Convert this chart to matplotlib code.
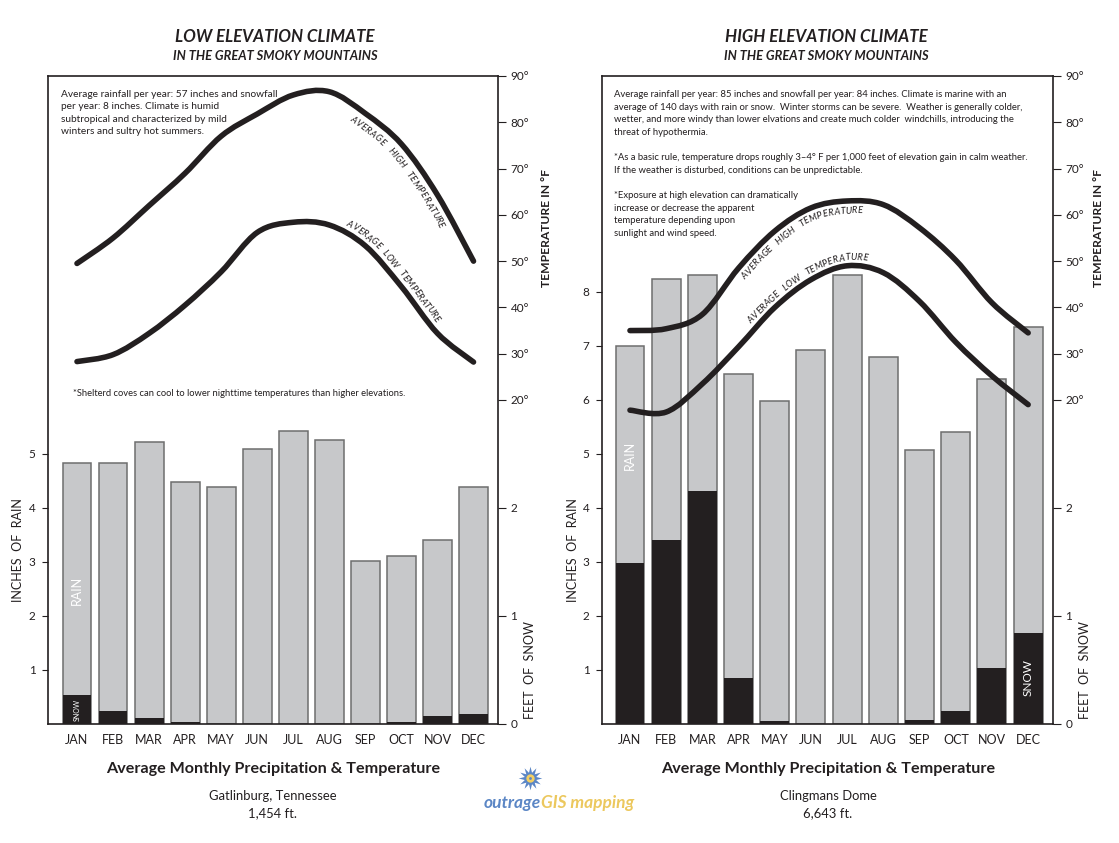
import numpy as np
import matplotlib
matplotlib.use('Agg')
import matplotlib.pyplot as plt
from matplotlib.path import Path
from matplotlib.patches import PathPatch
from matplotlib.font_manager import FontProperties
from matplotlib.textpath import TextPath

plt.rcParams['font.family'] = ['Lato', 'DejaVu Sans']

# ---------------- data ----------------
months = ['JAN', 'FEB', 'MAR', 'APR', 'MAY', 'JUN', 'JUL', 'AUG', 'SEP', 'OCT', 'NOV', 'DEC']

# Gatlinburg (low elevation)
low_rain_in = [4.83, 4.83, 5.23, 4.48, 4.39, 5.10, 5.43, 5.26, 3.01, 3.12, 3.41, 4.39]
low_snow_ft = [0.27, 0.12, 0.06, 0.02, 0.0, 0.0, 0.0, 0.0, 0.0, 0.02, 0.07, 0.09]
low_temp_high = [49.5, 55.0, 62.0, 69.0, 77.0, 81.8, 85.9, 86.6, 81.9, 75.3, 64.3, 50.0]
low_temp_low = [28.3, 29.8, 34.4, 40.5, 47.7, 56.2, 58.4, 57.8, 53.3, 44.5, 34.4, 28.2]

# Clingmans Dome (high elevation)
high_rain_in = [7.00, 8.25, 8.32, 6.49, 5.98, 6.93, 8.32, 6.79, 5.07, 5.40, 6.39, 7.35]
high_snow_ft = [1.49, 1.70, 2.16, 0.43, 0.025, 0.0, 0.0, 0.0, 0.04, 0.12, 0.52, 0.84]
high_temp_high = [35.0, 35.4, 38.5, 48.5, 56.5, 61.5, 63.0, 62.2, 57.2, 50.2, 41.0, 34.5]
high_temp_low = [17.8, 17.4, 23.5, 31.5, 40.0, 46.0, 49.0, 47.5, 41.3, 32.5, 25.2, 19.0]

low_rain_ticks = [1, 2, 3, 4, 5]
high_rain_ticks = [1, 2, 3, 4, 5, 6, 7, 8]
snow_ticks = [0, 1, 2]
temp_ticks = [20, 30, 40, 50, 60, 70, 80, 90]

# ---------------- figure ----------------
W, H = 1119, 843
fig = plt.figure(figsize=(W / 100, H / 100), dpi=100)
ov = fig.add_axes([0, 0, 1, 1], zorder=10)
ov.set_xlim(0, W)
ov.set_ylim(H, 0)
ov.axis('off')
ov.patch.set_visible(False)

INK = '#231f20'
GRAY = '#c7c8ca'
EDGE = '#6e6e6e'


def smooth_ctrl(xs, ys):
    P = np.column_stack([xs, ys]).astype(float)
    n = len(P)
    segs = []
    for i in range(n - 1):
        p0 = P[max(i - 1, 0)]
        p1 = P[i]
        p2 = P[i + 1]
        p3 = P[min(i + 2, n - 1)]
        segs.append((p1, p1 + (p2 - p0) / 6.0, p2 - (p3 - p1) / 6.0, p2))
    return segs


def smooth_path(segs):
    verts = [segs[0][0]]
    codes = [Path.MOVETO]
    for (a, b, c, d) in segs:
        verts += [b, c, d]
        codes += [Path.CURVE4] * 3
    return Path(np.array(verts), codes)


def sample(segs, n=60):
    out = []
    t = np.linspace(0, 1, n, endpoint=False)[:, None]
    for (a, b, c, d) in segs:
        out.append((1 - t) ** 3 * a + 3 * (1 - t) ** 2 * t * b + 3 * (1 - t) * t ** 2 * c + t ** 3 * d)
    out.append(segs[-1][3][None, :])
    return np.vstack(out)


def curve_text(axt, segs, text, xs0, xs1, fs, off):
    """Place text letter by letter along the curve; off>0 = below the curve (px)."""
    fp = FontProperties(family=['Lato', 'DejaVu Sans'], size=fs, style='italic')
    pts = sample(segs)
    d = axt.transData.transform(pts)
    tg = np.gradient(d, axis=0)
    tn = tg / np.linalg.norm(tg, axis=1)[:, None]
    nrm = np.column_stack([tn[:, 1], -tn[:, 0]])
    oc = d + off * nrm
    s = np.concatenate([[0], np.cumsum(np.hypot(oc[1:, 0] - oc[:-1, 0], oc[1:, 1] - oc[:-1, 1]))])
    X0 = axt.transData.transform((xs0, 0))[0]
    X1 = axt.transData.transform((xs1, 0))[0]
    s0 = float(np.interp(X0, oc[:, 0], s))
    s1 = float(np.interp(X1, oc[:, 0], s))
    scale = 100.0 / 72.0
    widths = []
    for ch in text:
        if ch == ' ':
            widths.append(0.26 * fs * scale)
        else:
            ext = TextPath((0, 0), ch, size=fs, prop=fp).get_extents()
            widths.append(ext.width * scale)
    widths = np.array(widths)
    gap = (s1 - s0 - widths.sum()) / max(len(text) - 1, 1)
    cum = np.concatenate([[0], np.cumsum(widths)[:-1]])
    for k, ch in enumerate(text):
        if ch == ' ':
            continue
        sc = s0 + cum[k] + widths[k] / 2 + k * gap
        px_ = float(np.interp(sc, s, oc[:, 0]))
        py_ = float(np.interp(sc, s, oc[:, 1]))
        tx = float(np.interp(sc, s, tn[:, 0]))
        ty = float(np.interp(sc, s, tn[:, 1]))
        ang = float(np.degrees(np.arctan2(ty, tx)))
        ov.text(px_, H - py_, ch, rotation=ang, rotation_mode='anchor',
                ha='center', va='baseline', fontsize=fs, fontstyle='italic', color=INK)


def panel(x_left, x_right, xlim, rain, snow, thi, tlo, rain_ticks):
    ax = fig.add_axes([x_left / W, 1 - 724 / H, (x_right - x_left) / W, (724 - 76) / H])
    x = np.arange(len(months))
    ax.bar(x, rain, width=0.8, color=GRAY, edgecolor=EDGE, linewidth=1.1, zorder=2)
    ax.set_xlim(*xlim)
    ax.set_ylim(0, 12)
    ax.set_yticks(rain_ticks)
    ax.set_yticklabels([str(t) for t in rain_ticks])
    ax.set_xticks(x)
    ax.set_xticklabels(months)
    ax.tick_params(axis='x', length=0, pad=7, labelsize=9, labelcolor=INK)
    ax.tick_params(axis='y', direction='out', length=4, width=0.8, pad=5,
                   labelsize=8.5, labelcolor=INK, color=INK)
    for sp in ax.spines.values():
        sp.set_color(INK)
        sp.set_linewidth(1.2)

    axs = ax.twinx()
    axs.set_ylim(0, 6)
    axs.bar(x, snow, width=0.8, color=INK, linewidth=0, zorder=2)
    axs.set_yticks(snow_ticks)
    axs.set_yticklabels([str(t) for t in snow_ticks])

    axt = ax.twinx()
    axt.set_ylim(-50, 90)
    axt.set_yticks(temp_ticks)
    axt.set_yticklabels([f'{t}\u00b0' for t in temp_ticks])
    for a in (axs, axt):
        a.tick_params(axis='y', direction='out', length=6, width=0.8, pad=3,
                      labelsize=8.5, labelcolor=INK, color=INK)
        for sp in a.spines.values():
            sp.set_visible(False)
    segsets = []
    for temps in (thi, tlo):
        sg = smooth_ctrl(x, temps)
        axt.add_patch(PathPatch(smooth_path(sg), fill=False, lw=4, edgecolor=INK,
                                capstyle='round', joinstyle='round', zorder=5))
        segsets.append(sg)
    return ax, axs, axt, segsets


axL, axsL, axtL, pL = panel(48, 498, (-0.804, 11.679), low_rain_in, low_snow_ft,
                            low_temp_high, low_temp_low, low_rain_ticks)
axR, axsR, axtR, pR = panel(602, 1053, (-0.773, 11.686), high_rain_in, high_snow_ft,
                            high_temp_high, high_temp_low, high_rain_ticks)

# curved labels (high: below its curve, low: above its curve)
curve_text(axtL, pL[0], 'AVERAGE  HIGH  TEMPERATURE', 7.55, 10.05, 6.6, 15.0)
curve_text(axtL, pL[1], 'AVERAGE  LOW  TEMPERATURE', 7.45, 9.95, 6.6, -6.0)
curve_text(axtR, pR[0], 'AVERAGE  HIGH  TEMPERATURE', 3.18, 6.42, 6.6, 12.5)
curve_text(axtR, pR[1], 'AVERAGE  LOW  TEMPERATURE', 3.36, 6.54, 6.6, -5.5)

# in-bar labels
axL.text(0, 2.48, 'RAIN', rotation=90, color='white', fontsize=9, ha='center', va='center', zorder=6)
axsL.text(0, 0.13, 'SNOW', rotation=90, color='white', fontsize=5, ha='center', va='center', zorder=6)
axR.text(0, 4.98, 'RAIN', rotation=90, color='white', fontsize=9, ha='center', va='center', zorder=6)
axsR.text(11, 0.43, 'SNOW', rotation=90, color='white', fontsize=8.5, ha='center', va='center', zorder=6)

# axis titles
for xr, xs, xt in ((18, 530, 546), (573, 1085, 1099)):
    ov.text(xr, 550, 'INCHES  OF  RAIN', rotation=90, fontsize=9, ha='center', va='center', color=INK)
    ov.text(xs, 670, 'FEET  OF  SNOW', rotation=90, fontsize=9, ha='center', va='center', color=INK)
    ov.text(xt, 228, 'TEMPERATURE IN \u00b0F', rotation=90, fontsize=8.7, fontweight='bold',
            ha='center', va='center', color=INK)

# titles
for cx, t in ((275, 'LOW ELEVATION CLIMATE'), (826, 'HIGH ELEVATION CLIMATE')):
    ov.text(cx, 37, t, fontsize=12.2, fontweight='bold', fontstyle='italic', ha='center', va='center', color=INK)
    ov.text(cx, 56, 'IN THE GREAT SMOKY MOUNTAINS', fontsize=9.3, fontweight='bold', fontstyle='italic',
            ha='center', va='center', color=INK)

# notes
ov.text(61, 90, 'Average rainfall per year: 57 inches and snowfall\nper year: 8 inches. Climate is humid\n'
        'subtropical and characterized by mild\nwinters and sultry hot summers.',
        fontsize=7.3, ha='left', va='top', linespacing=1.47, color=INK)
ov.text(73, 393, '*Shelterd coves can cool to lower nighttime temperatures than higher elevations.',
        fontsize=6.75, ha='left', va='center', color=INK)
ov.text(614, 90,
        'Average rainfall per year: 85 inches and snowfall per year: 84 inches. Climate is marine with an\n'
        'average of 140 days with rain or snow.  Winter storms can be severe.  Weather is generally colder,\n'
        'wetter, and more windy than lower elvations and create much colder  windchills, introducing the\n'
        'threat of hypothermia.\n\n'
        '*As a basic rule, temperature drops roughly 3\u20134\u00b0 F per 1,000 feet of elevation gain in calm weather.\n'
        'If the weather is disturbed, conditions can be unpredictable.\n\n'
        '*Exposure at high elevation can dramatically\nincrease or decrease the apparent\n'
        'temperature depending upon\nsunlight and wind speed.',
        fontsize=6.8, ha='left', va='top', linespacing=1.52, color=INK)

# bottom captions
for cx, place, elev in ((273, 'Gatlinburg, Tennessee', '1,454 ft.'), (828, 'Clingmans Dome', '6,643 ft.')):
    ov.text(cx, 769, 'Average Monthly Precipitation & Temperature', fontsize=11.6, fontweight='bold',
            ha='center', va='center', color=INK)
    ov.text(cx, 796, place, fontsize=9.4, ha='center', va='center', color=INK)
    ov.text(cx, 813, elev, fontsize=9.4, ha='center', va='center', color=INK)

# logo
ov.plot([530], [778], marker=(12, 1, 0), ms=17, color='#5b86c5', mew=0, linestyle='none')
ov.plot([530], [778], marker='o', ms=6, color='#f3cf63', mew=0, linestyle='none')
ov.plot([530], [778], marker='o', ms=2, color='#5b86c5', mew=0, linestyle='none')
ov.text(541, 803, 'outrage', fontsize=12.5, fontstyle='italic', fontweight='bold', color='#5b86c5',
        ha='right', va='center')
ov.text(541, 803, 'GIS mapping', fontsize=12.5, fontstyle='italic', fontweight='bold', color='#ecc85e',
        ha='left', va='center')

fig.savefig('out.png', dpi=100, facecolor='white')
